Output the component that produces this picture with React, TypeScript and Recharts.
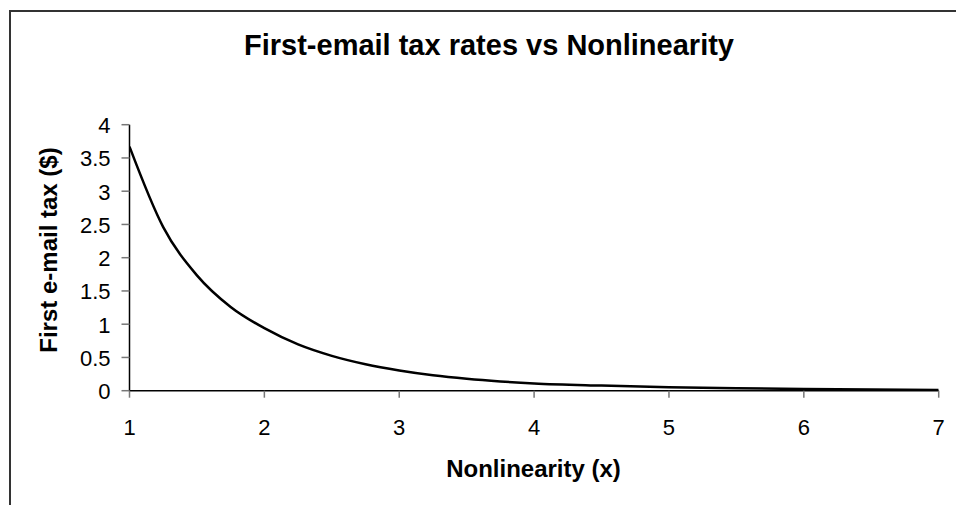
import React from "react";
import { LineChart, Line, XAxis, YAxis } from "recharts";

const xValues = [1, 1.25, 1.5, 1.75, 2, 2.25, 2.5, 2.75, 3, 3.25, 3.5, 3.75, 4, 4.5, 5, 5.5, 6, 6.5, 7];
const taxValues = [3.67, 2.46, 1.735, 1.26, 0.94, 0.696, 0.524, 0.398, 0.305, 0.233, 0.18, 0.14, 0.11, 0.077, 0.052, 0.036, 0.025, 0.017, 0.012];
const xTicks = [1, 2, 3, 4, 5, 6, 7];
const yTicks = [0, 0.5, 1, 1.5, 2, 2.5, 3, 3.5, 4];
const title = "First-email tax rates vs Nonlinearity";
const xLabel = "Nonlinearity (x)";
const yLabel = "First e-mail tax ($)";

const data = xValues.map((x, i) => ({ x, tax: taxValues[i] }));

const FONT = '"Liberation Sans", Arial, sans-serif';

const XTick = (props: any) => {
  const { x, y, payload } = props;
  return (
    <text x={x} y={y} dy={15.5} textAnchor="middle" style={{ fontFamily: FONT, fontSize: "22px" }} fill="#000">
      {String(payload.value)}
    </text>
  );
};

const YTick = (props: any) => {
  const { x, y, payload } = props;
  return (
    <text x={x} y={y} dy={8.5} textAnchor="end" style={{ fontFamily: FONT, fontSize: "22px" }} fill="#000">
      {String(payload.value)}
    </text>
  );
};

export default function App() {
  return (
    <div style={{ position: "absolute", left: 0, top: 0, width: 956, height: 505, overflow: "hidden", background: "#fff" }}>
      <div style={{ position: "absolute", left: 9, top: 10, width: 1000, height: 600, border: "2px solid #333", boxSizing: "border-box" }} />
      <div style={{ position: "absolute", left: 0, top: 0 }}>
        <LineChart
          width={956}
          height={505}
          data={data}
          margin={{ top: 124.7, right: 17.3, bottom: 0, left: 0 }}
        >
          <XAxis
            dataKey="x"
            type="number"
            domain={[1, 7]}
            ticks={xTicks}
            interval={0}
            height={114.3}
            tickSize={7}
            tickMargin={21.5}
            axisLine={{ stroke: "#000", strokeWidth: 1.5 }}
            tickLine={{ stroke: "#777", strokeWidth: 1.5 }}
            tick={XTick}
            allowDataOverflow
          />
          <YAxis
            type="number"
            domain={[0, 4]}
            ticks={yTicks}
            interval={0}
            width={129.5}
            tickSize={8}
            tickMargin={11}
            axisLine={{ stroke: "#000", strokeWidth: 1.5 }}
            tickLine={{ stroke: "#777", strokeWidth: 1.5 }}
            tick={YTick}
            allowDataOverflow
          />
          <Line
            dataKey="tax"
            type="monotone"
            stroke="#000"
            strokeWidth={2.5}
            dot={false}
            isAnimationActive={false}
          />
        </LineChart>
      </div>
      <svg width={956} height={505} style={{ position: "absolute", left: 0, top: 0, pointerEvents: "none" }}>
        <text x={489} y={55} textAnchor="middle" fontFamily={FONT} fontWeight="bold" fontSize={29} fill="#000">
          {title}
        </text>
        <text x={533.5} y={476.5} textAnchor="middle" fontFamily={FONT} fontWeight="bold" fontSize={24} fill="#000">
          {xLabel}
        </text>
        <text
          transform="translate(56.5,250) rotate(-90)"
          textAnchor="middle"
          fontFamily={FONT}
          fontWeight="bold"
          fontSize={24}
          fill="#000"
        >
          {yLabel}
        </text>
      </svg>
    </div>
  );
}
